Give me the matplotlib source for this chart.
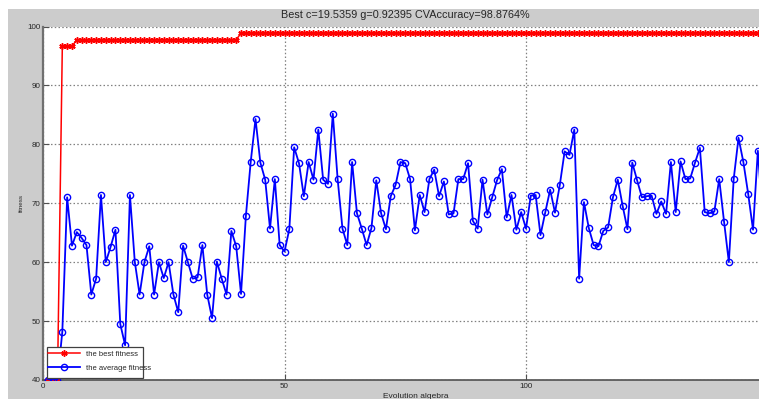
import numpy as np
import matplotlib
matplotlib.use("Agg")
import matplotlib.pyplot as plt
from matplotlib.patches import Rectangle

# --- data -------------------------------------------------------------
best_fitness = ([40.0] * 3 + [96.6292] * 3 + [97.7528] * 34 + [98.8764] * 110)

avg_fitness = [
    40.0, 40.0, 40.0, 48.2, 71.0, 62.8, 65.1, 64.1, 62.9, 54.5,
    57.2, 71.4, 60.0, 62.6, 65.5, 49.5, 45.9, 71.4, 60.1, 54.5,
    60.0, 62.7, 54.5, 60.0, 57.3, 60.0, 54.5, 51.5, 62.8, 60.0,
    57.2, 57.4, 62.9, 54.5, 50.5, 60.1, 57.2, 54.5, 65.3, 62.7,
    54.6, 67.8, 77.0, 84.3, 76.9, 74.0, 65.7, 74.1, 62.9, 61.8,
    65.6, 79.5, 76.8, 71.2, 77.0, 74.0, 82.5, 74.0, 73.3, 85.2,
    74.1, 65.7, 62.9, 77.0, 68.3, 65.7, 62.9, 65.8, 73.9, 68.3,
    65.6, 71.2, 73.1, 77.0, 76.8, 74.1, 65.4, 71.4, 68.5, 74.1,
    75.7, 71.2, 73.7, 68.1, 68.3, 74.1, 74.1, 76.8, 67.0, 65.7,
    74.0, 68.1, 71.0, 73.9, 75.8, 67.6, 71.4, 65.5, 68.5, 65.7,
    71.3, 71.4, 64.6, 68.5, 72.3, 68.4, 73.1, 78.8, 78.2, 82.5,
    57.2, 70.2, 65.8, 62.9, 62.7, 65.3, 65.9, 71.0, 74.0, 69.6,
    65.6, 76.9, 73.9, 71.0, 71.2, 71.3, 68.2, 70.3, 68.2, 77.0,
    68.5, 77.1, 74.1, 74.2, 76.9, 79.4, 68.5, 68.3, 68.6, 74.1,
    66.9, 60.0, 74.1, 81.1, 77.0, 71.6, 65.5, 78.9, 67.5, 72.0,
]

generations = np.arange(1, len(avg_fitness) + 1)

title_text = "Best c=19.5359 g=0.92395 CVAccuracy=98.8764%"
x_ticks = [0, 50, 100]
y_ticks = [40, 50, 60, 70, 80, 90, 100]

# --- figure -----------------------------------------------------------
W, H, DPI = 759, 399, 100
plt.rcParams['font.family'] = ['Liberation Sans', 'DejaVu Sans']
fig = plt.figure(figsize=(W / DPI, H / DPI), dpi=DPI, facecolor='#cccccc')

# white margins at top and left
fig.patches.append(Rectangle((0, 1 - 9 / H), 1, 9 / H, transform=fig.transFigure,
                             facecolor='white', edgecolor='none', zorder=0))
fig.patches.append(Rectangle((0, 0), 8 / W, 1, transform=fig.transFigure,
                             facecolor='white', edgecolor='none', zorder=0))

x0_px, y_top_px, y_bot_px = 43, 26.5, 380
px_per_gen = 4.83
ax_w_px = 150 * px_per_gen
ax_h_px = y_bot_px - y_top_px
ax = fig.add_axes([x0_px / W, (H - y_bot_px) / H, ax_w_px / W, ax_h_px / H])
ax.set_facecolor('white')


def ax_x(px):
    return (px - x0_px) / ax_w_px


def ax_y(py):
    return (y_bot_px - py) / ax_h_px


ax.plot(generations, best_fitness, color='#ff0000', lw=1.1,
        marker=(6, 2, 0), markersize=4.5, markeredgewidth=1.1,
        label='the best fitness', zorder=3)
ax.plot(generations, avg_fitness, color='#0000ff', lw=1.3,
        marker='o', markersize=4.5, markerfacecolor='none',
        markeredgewidth=1.0, label='the average fitness', zorder=4)

ax.set_xlim(0, 150)
ax.set_ylim(40, 100)
ax.set_xticks(x_ticks)
ax.set_yticks(y_ticks)
ax.grid(True, linestyle=(0, (1.2, 1.8)), color='#808080', lw=0.9)
ax.set_axisbelow(True)

for side in ('top', 'right'):
    ax.spines[side].set_visible(False)
ax.spines['left'].set_color('#707070')
ax.spines['left'].set_linewidth(1.6)
ax.spines['bottom'].set_color('#505050')
ax.spines['bottom'].set_linewidth(1.2)

ax.tick_params(axis='both', direction='in', length=4, width=0.8,
               colors='#505050', labelcolor='#262626', labelsize=5.8, pad=2)

ax.set_title(title_text, fontsize=7.8, color='#262626', pad=6)
ax.set_xlabel('Evolution algebra', fontsize=6, color='#262626')
ax.xaxis.set_label_coords(ax_x(416), ax_y(393))
ax.set_ylabel('fitness', fontsize=4.5, color='#262626')
ax.yaxis.set_label_coords(ax_x(23.5), 0.5)

# legend box (text runs slightly past the frame on the right)
ax.add_patch(Rectangle((ax_x(46.7), ax_y(378)), ax_x(142.7) - ax_x(46.7),
                       ax_y(347) - ax_y(378), transform=ax.transAxes,
                       facecolor='white', edgecolor='#404040', lw=0.9,
                       zorder=6, clip_on=False))
leg = ax.legend(loc='upper left', bbox_to_anchor=(ax_x(48.3), ax_y(350.5)),
                borderaxespad=0, borderpad=0, frameon=False,
                fontsize=5.5, handlelength=4.15, handletextpad=0.75,
                labelspacing=0.85)
leg.set_zorder(7)
for t in leg.get_texts():
    t.set_color('#262626')

fig.savefig('out.png', dpi=DPI, facecolor=fig.get_facecolor())
